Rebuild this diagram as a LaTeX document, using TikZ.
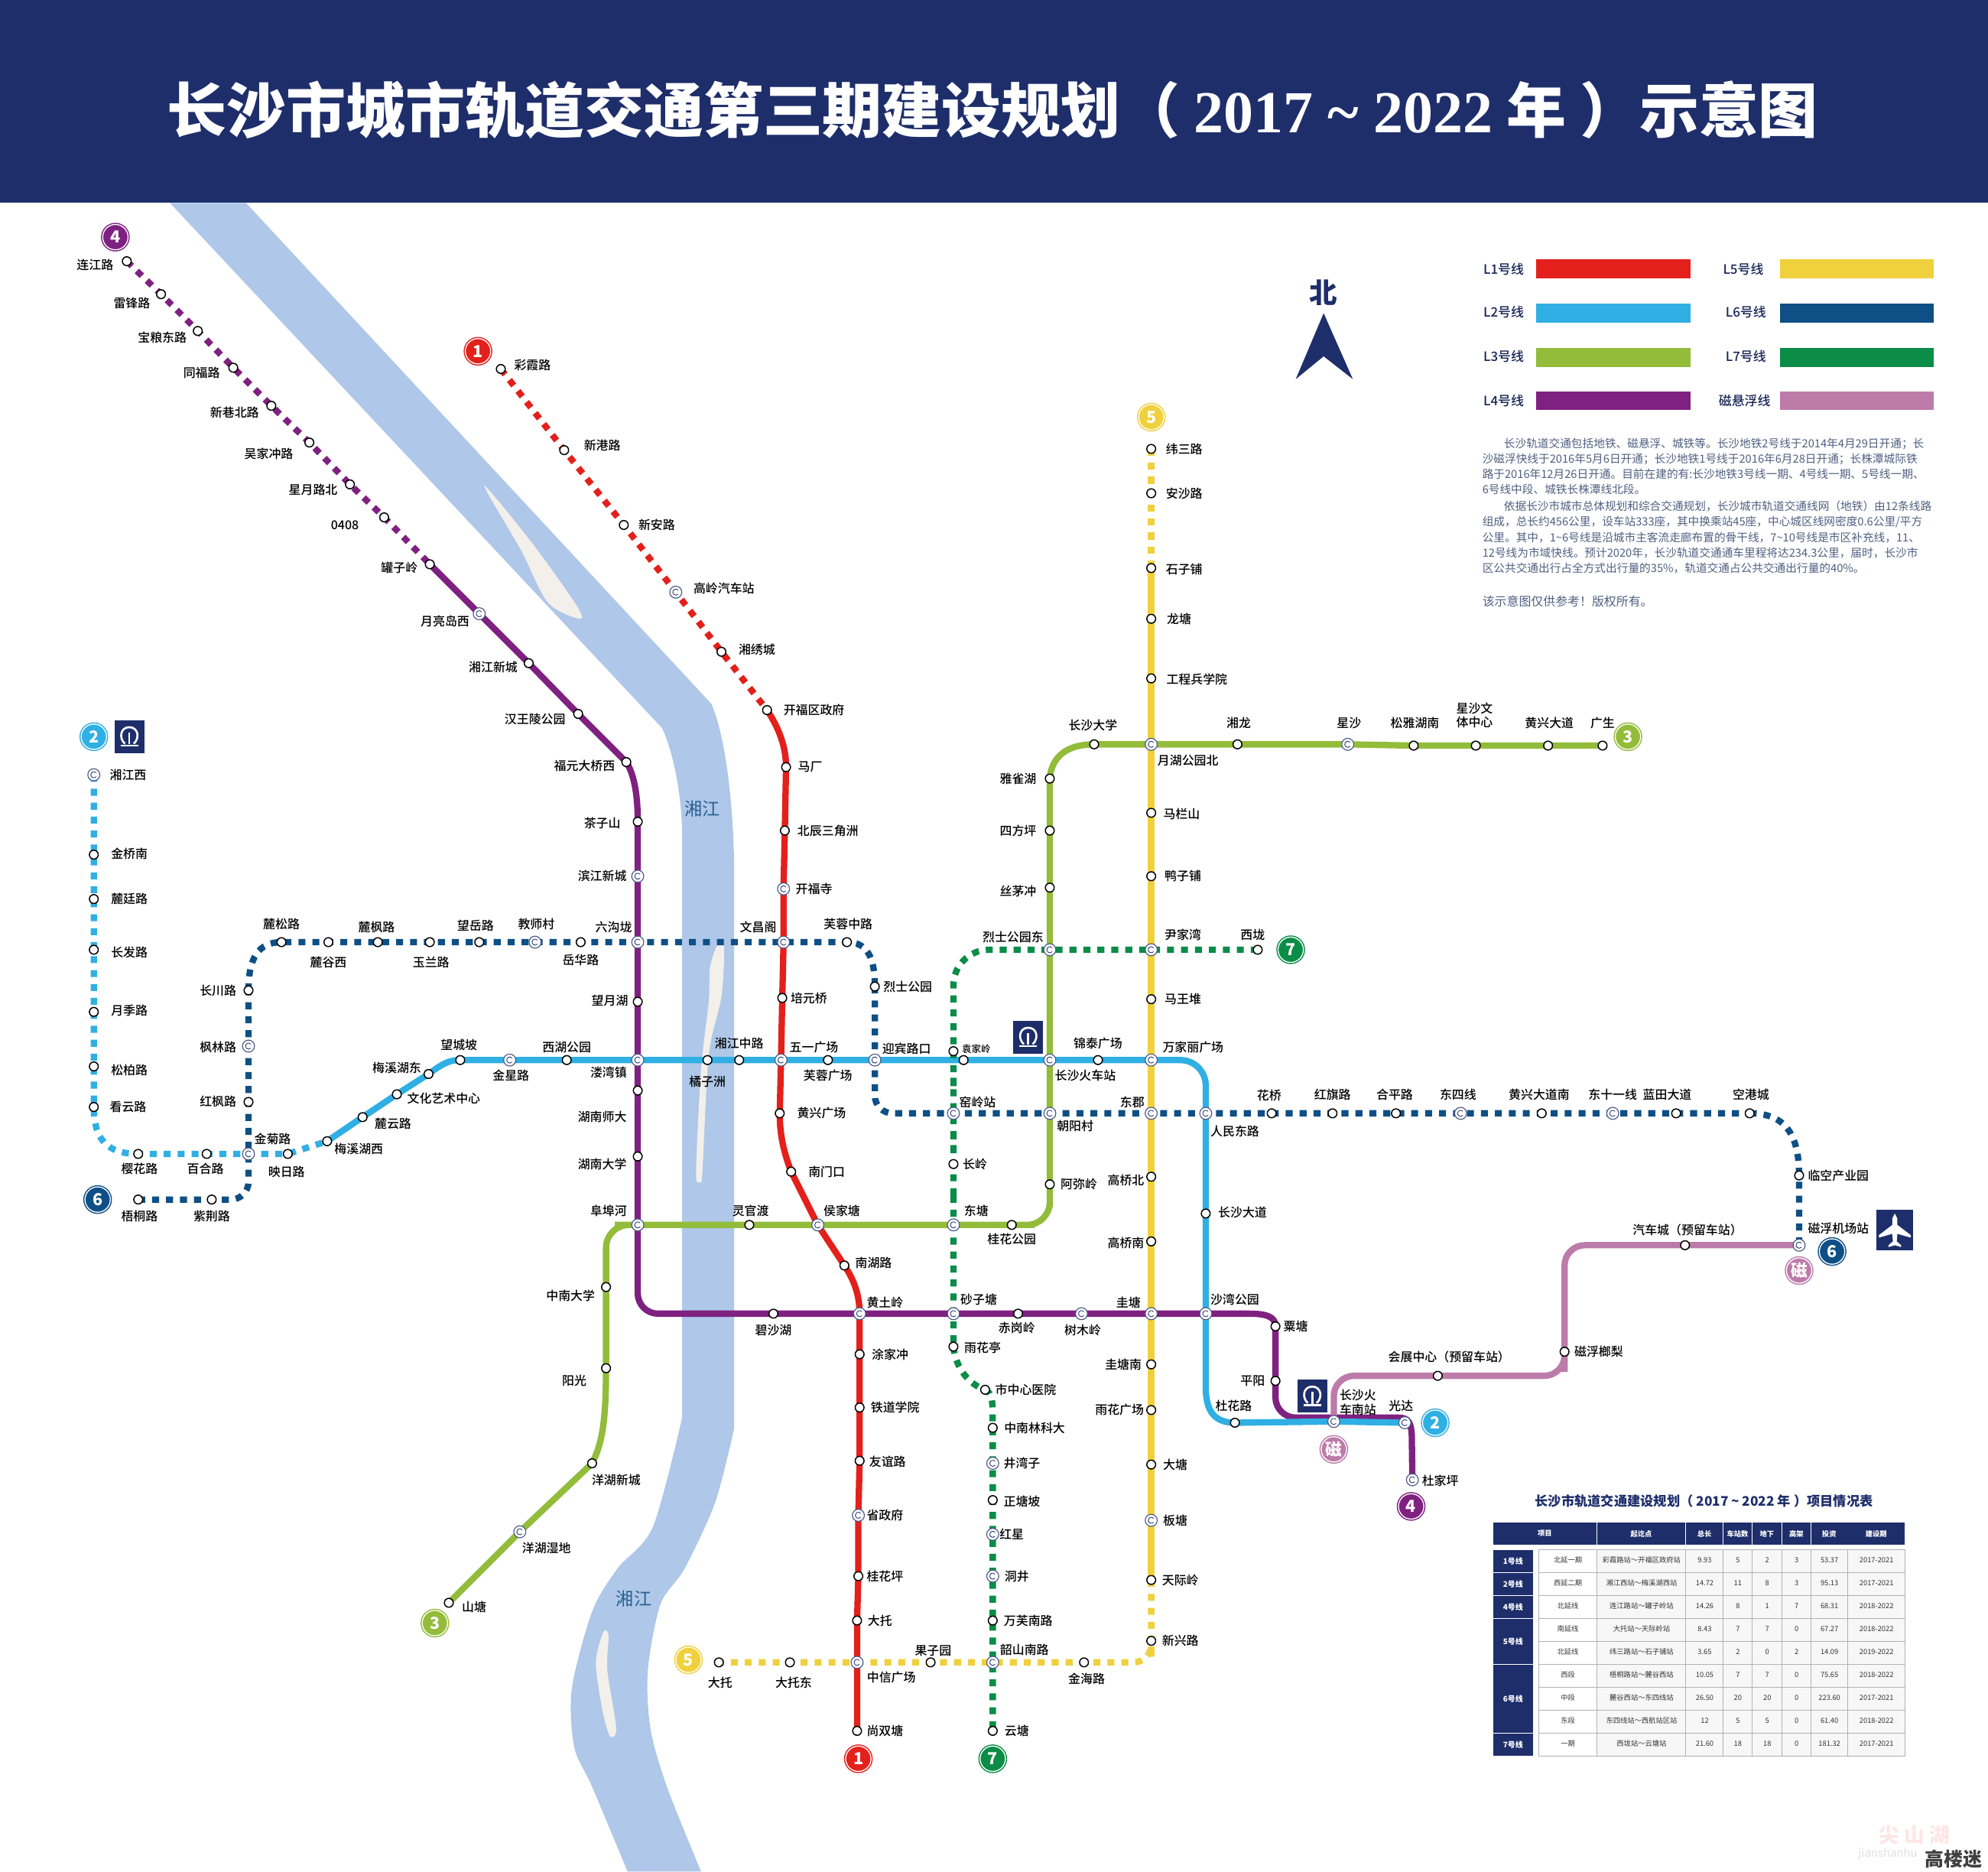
\documentclass[tikz,border=0pt]{standalone}
\usepackage{fontspec}
\usepackage{array}
\setmainfont{Noto Sans CJK SC}
\newfontfamily\numserif{Liberation Serif}
\newfontfamily\lblfont[UprightFont=* Medium]{Noto Sans CJK SC}
\usetikzlibrary{backgrounds}
\definecolor{navy}{HTML}{1E2E6A}
\definecolor{river}{HTML}{AFC7E8}
\definecolor{isle}{HTML}{F3EFEA}
\definecolor{cone}{HTML}{E3201B}
\definecolor{ctwo}{HTML}{2FAFE3}
\definecolor{cthree}{HTML}{92BC3A}
\definecolor{cfour}{HTML}{7F2180}
\definecolor{cfive}{HTML}{F0D03C}
\definecolor{csix}{HTML}{0E4F85}
\definecolor{cseven}{HTML}{0B8C47}
\definecolor{cmag}{HTML}{BC7BA9}
\definecolor{para}{HTML}{4F5F80}
\setlength{\tabcolsep}{0pt}
\newcolumntype{C}[1]{>{\centering\arraybackslash}p{#1}}
\newcolumntype{T}{C{45.9pt}C{70.3pt}C{29.3pt}C{23pt}C{23.3pt}C{23pt}C{28.9pt}C{45.3pt}}
\tikzset{
stn/.style={circle,draw=black,fill=white,line width=.9pt,minimum size=7pt,inner sep=0pt},
xfer/.style={circle,draw=navy!80,fill=white,line width=.7pt,minimum size=9.5pt,inner sep=0pt,path picture={\draw[navy,line width=.5pt] (path picture bounding box.center) ++(40:2.4) arc (40:320:2.4);}},
lbl/.style={inner sep=0pt,align=center,text=black,font=\lblfont\fontsize{9.6}{11}\selectfont},
badge/.style={circle,preaction={draw=#1,line width=2.6pt},draw=white,fill=#1,line width=.8pt,minimum size=20pt,inner sep=0pt,text=white,font=\fontsize{13}{14}\selectfont\bfseries},
lnbase/.style={line width=5pt},
dsh/.style={dash pattern=on 5.5pt off 5.5pt},
legbar/.style={minimum width=121.5pt,minimum height=15pt,inner sep=0pt},
leglbl/.style={inner sep=0pt,text=navy!80!black,font=\lblfont\fontsize{10.2}{11}\selectfont},
thead/.style={fill=navy,text=white,minimum height=17pt,inner sep=0pt,font=\fontsize{5.6}{7}\selectfont\bfseries},
tleft/.style={fill=navy,draw=white,line width=.5pt,text=white,minimum width=32pt,inner sep=0pt,font=\fontsize{6}{7}\selectfont\bfseries},
trow/.style={anchor=west,inner sep=0pt,text=black!80,font=\fontsize{5.6}{7}\selectfont},
railmark/.pic={
\node[fill=navy,minimum width=23.5pt,minimum height=26pt,inner sep=0pt] {};
\draw[white,line width=1.6pt] (-3.5,5.5) .. controls (-8.5,1) and (-7,-7.5) .. (0,-7.5) .. controls (7,-7.5) and (8.5,1) .. (3.5,5.5);
\draw[white,line width=1.6pt] (-7,7) -- (7,7) (0,-3.5) -- (0,6);
}
}
\begin{document}
\begin{tikzpicture}[x=1pt,y=-1pt]
\useasboundingbox (0,0) rectangle (1568,1476);
\fill[navy] (0,0) rectangle (1568,160);
\node[inner sep=0pt,text=white,font=\fontsize{47}{50}\selectfont\bfseries] (title) at (783,87) {长沙市城市轨道交通第三期建设规划（ {\numserif 2017 \textasciitilde{} 2022} 年 ）示意图};
\node[stn] (lj) at (100,206) {}; \node[lbl] (ljt) at (75,209) {连江路};
\node[stn] (lf) at (127,232) {}; \node[lbl] (lft) at (104,239) {雷锋路};
\node[stn] (bld) at (156,261) {}; \node[lbl] (bldt) at (128,266) {宝粮东路};
\node[stn] (tf) at (184,290) {}; \node[lbl] (tft) at (159,294) {同福路};
\node[stn] (xxb) at (214,320) {}; \node[lbl] (xxbt) at (185,325) {新巷北路};
\node[stn] (wjc) at (244,349) {}; \node[lbl] (wjct) at (212,358) {吴家冲路};
\node[stn] (xyb) at (276,382) {}; \node[lbl] (xybt) at (247,386) {星月路北};
\node[stn] (zfe) at (303,408) {}; \node[lbl] (zfet) at (272,414) {0408};
\node[stn] (gzl) at (339,445) {}; \node[lbl] (gzlt) at (315,448) {罐子岭};
\node[xfer] (ylx) at (378,484) {}; \node[lbl] (ylxt) at (351,490) {月亮岛西};
\node[stn] (xjxc) at (417,523) {}; \node[lbl] (xjxct) at (389,526) {湘江新城};
\node[stn] (hwl) at (456,563) {}; \node[lbl] (hwlt) at (422,567) {汉王陵公园};
\node[stn] (fyq) at (494,601) {}; \node[lbl] (fyqt) at (461,604) {福元大桥西};
\node[stn] (czs) at (503,648) {}; \node[lbl] (czst) at (475,649) {茶子山};
\node[xfer] (bjxc) at (503,691) {}; \node[lbl] (bjxct) at (475,691) {滨江新城};
\node[xfer] (lgl) at (503,743) {}; \node[lbl] (lglt) at (484,731) {六沟垅};
\node[stn] (wyh) at (503,790) {}; \node[lbl] (wyht) at (481,789) {望月湖};
\node[xfer] (lwz) at (503,836) {}; \node[lbl] (lwzt) at (480,846) {溇湾镇};
\node[stn] (hnsd) at (503,860) {}; \node[lbl] (hnsdt) at (475,881) {湖南师大};
\node[stn] (hndx) at (503,912) {}; \node[lbl] (hndxt) at (475,918) {湖南大学};
\node[xfer] (fbh) at (503,966) {}; \node[lbl] (fbht) at (480,955) {阜埠河};
\node[stn] (bsh) at (610,1036) {}; \node[lbl] (bsht) at (610,1049) {碧沙湖};
\node[xfer] (htl) at (678,1036) {}; \node[lbl] (htlt) at (698,1027) {黄土岭};
\node[xfer] (szt) at (752,1036) {}; \node[lbl] (sztt) at (772,1025) {砂子塘};
\node[stn] (cgl) at (803,1036) {}; \node[lbl] (cglt) at (802,1047) {赤岗岭};
\node[xfer] (sml) at (853,1036) {}; \node[lbl] (smlt) at (854,1049) {树木岭};
\node[xfer] (gt) at (908,1036) {}; \node[lbl] (gtt) at (890,1027) {圭塘};
\node[xfer] (swgy) at (951,1036) {}; \node[lbl] (swgyt) at (974,1025) {沙湾公园};
\node[stn] (st) at (1006,1046) {}; \node[lbl] (stt) at (1022,1046) {粟塘};
\node[stn] (py) at (1006,1089) {}; \node[lbl] (pyt) at (988,1089) {平阳};
\node[xfer] (nz) at (1052,1121) {}; \node[lbl] (nzt) at (1071,1106) {长沙火\\车南站};
\node[xfer] (gd) at (1108,1122) {}; \node[lbl] (gdt) at (1105,1109) {光达};
\node[xfer] (djp) at (1114,1167) {}; \node[lbl] (djpt) at (1136,1168) {杜家坪};
\coordinate (nzup) at (1052,1118);
\coordinate (gdup) at (1103,1118);
\node[stn] (cx) at (395,291) {}; \node[lbl] (cxt) at (420,288) {彩霞路};
\node[stn] (xg) at (445,355) {}; \node[lbl] (xgt) at (475,351) {新港路};
\node[stn] (xa) at (492,414) {}; \node[lbl] (xat) at (518,414) {新安路};
\node[xfer] (gl) at (533,467) {}; \node[lbl] (glt) at (571,464) {高岭汽车站};
\node[stn] (xx) at (569,514) {}; \node[lbl] (xxt) at (597,512) {湘绣城};
\node[stn] (kfq) at (605,560) {}; \node[lbl] (kfqt) at (642,560) {开福区政府};
\node[stn] (mc) at (620,605) {}; \node[lbl] (mct) at (639,605) {马厂};
\node[stn] (bc) at (619,655) {}; \node[lbl] (bct) at (653,655) {北辰三角洲};
\node[xfer] (kfs) at (618,701) {}; \node[lbl] (kfst) at (642,701) {开福寺};
\node[xfer] (wcg) at (618,743) {}; \node[lbl] (wcgt) at (598,731) {文昌阁};
\node[stn] (pyq) at (617,787) {}; \node[lbl] (pyqt) at (638,787) {培元桥};
\node[xfer] (wy) at (616,836) {}; \node[lbl] (wyt) at (642,826) {五一广场};
\node[stn] (hxgc) at (615,878) {}; \node[lbl] (hxgct) at (648,878) {黄兴广场};
\node[stn] (nmk) at (624,924) {}; \node[lbl] (nmkt) at (652,924) {南门口};
\node[xfer] (hjt) at (645,966) {}; \node[lbl] (hjtt) at (664,955) {侯家塘};
\node[stn] (nhl) at (666,998) {}; \node[lbl] (nhlt) at (689,996) {南湖路};
\node[stn] (tjc) at (678,1068) {}; \node[lbl] (tjct) at (702,1068) {涂家冲};
\node[stn] (tdxy) at (678,1110) {}; \node[lbl] (tdxyt) at (706,1110) {铁道学院};
\node[stn] (yyl) at (678,1152) {}; \node[lbl] (yylt) at (700,1153) {友谊路};
\node[xfer] (szf) at (677,1195) {}; \node[lbl] (szft) at (698,1195) {省政府};
\node[stn] (ghp) at (677,1243) {}; \node[lbl] (ghpt) at (698,1243) {桂花坪};
\node[stn] (dtb) at (676,1278) {}; \node[lbl] (dtbt) at (694,1278) {大托};
\node[xfer] (zx) at (676,1311) {}; \node[lbl] (zxt) at (703,1323) {中信广场};
\node[stn] (ssd) at (676,1365) {}; \node[lbl] (ssdt) at (698,1365) {尚双塘};
\node[xfer] (xjx) at (74,611) {}; \node[lbl] (xjxt) at (101,611) {湘江西};
\node[stn] (jq) at (74,674) {}; \node[lbl] (jqt) at (102,673) {金桥南};
\node[stn] (lt) at (74,709) {}; \node[lbl] (ltt) at (102,709) {麓廷路};
\node[stn] (cf) at (74,749) {}; \node[lbl] (cft) at (102,751) {长发路};
\node[stn] (yj) at (74,798) {}; \node[lbl] (yjt) at (102,797) {月季路};
\node[stn] (sb) at (74,841) {}; \node[lbl] (sbt) at (102,844) {松柏路};
\node[stn] (ky) at (74,873) {}; \node[lbl] (kyt) at (101,873) {看云路};
\node[stn] (yh) at (109,910) {}; \node[lbl] (yht) at (110,922) {樱花路};
\node[stn] (bh) at (163,910) {}; \node[lbl] (bht) at (162,922) {百合路};
\node[xfer] (jj) at (196,910) {}; \node[lbl] (jjt) at (215,898) {金菊路};
\node[stn] (yr) at (227,910) {}; \node[lbl] (yrt) at (226,924) {映日路};
\node[stn] (mxx) at (258,900) {}; \node[lbl] (mxxt) at (283,906) {梅溪湖西};
\node[stn] (lyl) at (286,881) {}; \node[lbl] (lylt) at (310,886) {麓云路};
\node[stn] (whys) at (313,863) {}; \node[lbl] (whyst) at (350,866) {文化艺术中心};
\node[stn] (mxd) at (338,847) {}; \node[lbl] (mxdt) at (313,842) {梅溪湖东};
\node[stn] (wcp) at (363,836) {}; \node[lbl] (wcpt) at (362,824) {望城坡};
\node[xfer] (jx) at (402,836) {}; \node[lbl] (jxt) at (403,848) {金星路};
\node[stn] (xhgy) at (447,836) {}; \node[lbl] (xhgyt) at (447,826) {西湖公园};
\node[stn] (jzz) at (558,836) {}; \node[lbl] (jzzt) at (558,853) {橘子洲};
\node[stn] (xjzl) at (583,836) {}; \node[lbl] (xjzlt) at (583,823) {湘江中路};
\node[stn] (frgc) at (653,836) {}; \node[lbl] (frgct) at (653,848) {芙蓉广场};
\node[xfer] (ybl) at (690,836) {}; \node[lbl] (yblt) at (715,827) {迎宾路口};
\node[stn] (yjl) at (760,836) {}; \node[lbl,font=\lblfont\fontsize{7.5}{9}\selectfont] (yjlt) at (770,827) {袁家岭};
\node[xfer] (cshc) at (828,836) {}; \node[lbl] (cshct) at (856,848) {长沙火车站};
\node[stn] (jtgc) at (866,836) {}; \node[lbl] (jtgct) at (866,823) {锦泰广场};
\node[xfer] (wjl) at (908,836) {}; \node[lbl] (wjlt) at (941,826) {万家丽广场};
\node[xfer] (rmdl) at (951,878) {}; \node[lbl] (rmdlt) at (974,892) {人民东路};
\node[stn] (csdd) at (951,957) {}; \node[lbl] (csddt) at (980,956) {长沙大道};
\node[stn] (dhl) at (974,1122) {}; \node[lbl] (dhlt) at (973,1109) {杜花路};
\node[stn] (wt) at (109,946) {}; \node[lbl] (wtt) at (110,959) {梧桐路};
\node[stn] (zj) at (167,946) {}; \node[lbl] (zjt) at (167,959) {紫荆路};
\node[stn] (hfl) at (196,869) {}; \node[lbl] (hflt) at (172,869) {红枫路};
\node[xfer] (fl) at (196,825) {}; \node[lbl] (flt) at (172,826) {枫林路};
\node[stn] (cc) at (196,781) {}; \node[lbl] (cct) at (172,781) {长川路};
\node[stn] (ls) at (222,743) {}; \node[lbl] (lst) at (222,729) {麓松路};
\node[stn] (lgx) at (259,743) {}; \node[lbl] (lgxt) at (259,759) {麓谷西};
\node[stn] (lfl) at (298,743) {}; \node[lbl] (lflt) at (297,731) {麓枫路};
\node[stn] (yl) at (339,743) {}; \node[lbl] (ylt) at (340,759) {玉兰路};
\node[stn] (wyl) at (378,743) {}; \node[lbl] (wylt) at (375,730) {望岳路};
\node[xfer] (jsc) at (422,743) {}; \node[lbl] (jsct) at (423,729) {教师村};
\node[stn] (yhl) at (458,743) {}; \node[lbl] (yhlt) at (458,757) {岳华路};
\node[stn] (frzl) at (668,743) {}; \node[lbl] (frzlt) at (669,729) {芙蓉中路};
\node[stn] (lsgy) at (690,778) {}; \node[lbl] (lsgyt) at (716,778) {烈士公园};
\node[xfer] (yaol) at (752,878) {}; \node[lbl] (yaolt) at (771,869) {窑岭站};
\node[xfer] (cyc) at (828,878) {}; \node[lbl] (cyct) at (848,888) {朝阳村};
\node[xfer] (dj) at (908,878) {}; \node[lbl] (djt) at (893,869) {东郡};
\node[stn] (hq) at (1003,878) {}; \node[lbl] (hqt) at (1001,864) {花桥};
\node[stn] (hqi) at (1051,878) {}; \node[lbl] (hqit) at (1051,863) {红旗路};
\node[stn] (hp) at (1101,878) {}; \node[lbl] (hpt) at (1100,863) {合平路};
\node[xfer] (dsx) at (1152,878) {}; \node[lbl] (dsxt) at (1150,863) {东四线};
\node[stn] (hxn) at (1216,878) {}; \node[lbl] (hxnt) at (1214,863) {黄兴大道南};
\node[xfer] (dsy) at (1272,878) {}; \node[lbl] (dsyt) at (1272,863) {东十一线};
\node[stn] (ltd) at (1322,878) {}; \node[lbl] (ltdt) at (1315,863) {蓝田大道};
\node[stn] (kgc) at (1380,878) {}; \node[lbl] (kgct) at (1381,863) {空港城};
\node[stn] (lky) at (1419,927) {}; \node[lbl] (lkyt) at (1450,927) {临空产业园};
\node[xfer] (jc) at (1419,982) {}; \node[lbl] (jct) at (1450,969) {磁浮机场站};
\node[stn] (shant) at (354,1264) {}; \node[lbl] (shantt) at (374,1267) {山塘};
\node[xfer] (yhsd) at (410,1208) {}; \node[lbl] (yhsdt) at (431,1221) {洋湖湿地};
\node[stn] (yhxc) at (467,1154) {}; \node[lbl] (yhxct) at (486,1167) {洋湖新城};
\node[stn] (yg) at (478,1079) {}; \node[lbl] (ygt) at (453,1089) {阳光};
\node[stn] (znd) at (478,1015) {}; \node[lbl] (zndt) at (450,1022) {中南大学};
\node[stn] (lgd) at (591,966) {}; \node[lbl] (lgdt) at (592,955) {灵官渡};
\node[xfer] (dt) at (752,966) {}; \node[lbl] (dtt) at (770,955) {东塘};
\node[stn] (ghgy) at (798,966) {}; \node[lbl] (ghgyt) at (798,977) {桂花公园};
\node[stn] (aml) at (828,934) {}; \node[lbl] (amlt) at (851,934) {阿弥岭};
\node[xfer] (lsd) at (828,749) {}; \node[lbl] (lsdt) at (799,739) {烈士公园东};
\node[stn] (smc) at (828,700) {}; \node[lbl] (smct) at (803,703) {丝茅冲};
\node[stn] (sfp) at (828,655) {}; \node[lbl] (sfpt) at (803,655) {四方坪};
\node[stn] (yqh) at (828,614) {}; \node[lbl] (yqht) at (803,614) {雅雀湖};
\node[stn] (csdx) at (863,587) {}; \node[lbl] (csdxt) at (862,572) {长沙大学};
\node[xfer] (yhgy) at (908,587) {}; \node[lbl] (yhgyt) at (937,600) {月湖公园北};
\node[stn] (xl) at (976,587) {}; \node[lbl] (xlt) at (977,570) {湘龙};
\node[xfer] (xs) at (1063,587) {}; \node[lbl] (xst) at (1064,570) {星沙};
\node[stn] (syh) at (1115,588) {}; \node[lbl] (syht) at (1116,570) {松雅湖南};
\node[stn] (xswt) at (1164,588) {}; \node[lbl] (xswtt) at (1163,564) {星沙文\\体中心};
\node[stn] (hxdd) at (1221,588) {}; \node[lbl] (hxddt) at (1222,570) {黄兴大道};
\node[stn] (gs) at (1264,588) {}; \node[lbl] (gst) at (1264,570) {广生};
\node[stn] (wsl) at (908,354) {}; \node[lbl] (wslt) at (934,354) {纬三路};
\node[stn] (asl) at (908,389) {}; \node[lbl] (aslt) at (934,389) {安沙路};
\node[stn] (szp) at (908,448) {}; \node[lbl] (szpt) at (934,449) {石子铺};
\node[stn] (lt5) at (908,488) {}; \node[lbl] (lt5t) at (930,488) {龙塘};
\node[stn] (gcb) at (908,535) {}; \node[lbl] (gcbt) at (944,536) {工程兵学院};
\node[stn] (mls) at (908,641) {}; \node[lbl] (mlst) at (932,642) {马栏山};
\node[stn] (yzp) at (908,691) {}; \node[lbl] (yzpt) at (933,691) {鸭子铺};
\node[xfer] (yjw) at (908,749) {}; \node[lbl] (yjwt) at (933,737) {尹家湾};
\node[stn] (mwd) at (908,788) {}; \node[lbl] (mwdt) at (933,788) {马王堆};
\node[stn] (gqb) at (908,928) {}; \node[lbl] (gqbt) at (888,931) {高桥北};
\node[stn] (gqn) at (908,979) {}; \node[lbl] (gqnt) at (888,980) {高桥南};
\node[stn] (gtn) at (908,1076) {}; \node[lbl] (gtnt) at (886,1076) {圭塘南};
\node[stn] (yhgc) at (908,1112) {}; \node[lbl] (yhgct) at (883,1112) {雨花广场};
\node[stn] (dtg) at (908,1155) {}; \node[lbl] (dtgt) at (927,1155) {大塘};
\node[xfer] (bt) at (908,1199) {}; \node[lbl] (btt) at (927,1199) {板塘};
\node[stn] (tjl) at (908,1246) {}; \node[lbl] (tjlt) at (931,1246) {天际岭};
\node[stn] (xxl) at (908,1294) {}; \node[lbl] (xxlt) at (931,1294) {新兴路};
\node[stn] (jhl) at (855,1311) {}; \node[lbl] (jhlt) at (857,1324) {金海路};
\node[xfer] (ssn) at (783,1311) {}; \node[lbl] (ssnt) at (808,1301) {韶山南路};
\node[stn] (gzy) at (734,1311) {}; \node[lbl] (gzyt) at (736,1302) {果子园};
\node[stn] (dtd) at (623,1311) {}; \node[lbl] (dtdt) at (626,1327) {大托东};
\node[stn] (dtw) at (567,1311) {}; \node[lbl] (dtwt) at (568,1327) {大托};
\node[stn] (xlg) at (992,749) {}; \node[lbl] (xlgt) at (988,737) {西垅};
\node[stn] (yjl7) at (752,829) {};
\node[stn] (cl) at (752,918) {}; \node[lbl] (clt) at (769,918) {长岭};
\node[stn] (yht7) at (752,1062) {}; \node[lbl] (yht7t) at (775,1063) {雨花亭};
\node[stn] (szx) at (777,1096) {}; \node[lbl] (szxt) at (809,1096) {市中心医院};
\node[stn] (znl) at (783,1126) {}; \node[lbl] (znlt) at (816,1126) {中南林科大};
\node[xfer] (jwz) at (783,1154) {}; \node[lbl] (jwzt) at (806,1154) {井湾子};
\node[stn] (ztp) at (783,1183) {}; \node[lbl] (ztpt) at (806,1184) {正塘坡};
\node[xfer] (hx) at (783,1210) {}; \node[lbl] (hxt) at (798,1210) {红星};
\node[xfer] (dj7) at (783,1243) {}; \node[lbl] (dj7t) at (802,1243) {洞井};
\node[stn] (wfn) at (783,1278) {}; \node[lbl] (wfnt) at (811,1278) {万芙南路};
\node[stn] (ytg) at (783,1365) {}; \node[lbl] (ytgt) at (802,1365) {云塘};
\node[stn] (hz) at (1134,1085) {}; \node[lbl] (hzt) at (1143,1070) {会展中心（预留车站）};
\node[stn] (cfl) at (1234,1066) {}; \node[lbl] (cflt) at (1261,1066) {磁浮榔梨};
\node[stn] (qcc) at (1329,982) {}; \node[lbl] (qcct) at (1331,970) {汽车城（预留车站）};
\node[badge=cfour] (b4a) at (91,187) {4};
\node[badge=cfour] (b4b) at (1113,1188) {4};
\node[badge=cone] (b1a) at (377,277) {1};
\node[badge=cone] (b1b) at (677,1387) {1};
\node[badge=ctwo] (b2a) at (74,581) {2};
\node[badge=ctwo] (b2b) at (1132,1122) {2};
\node[badge=cthree] (b3a) at (1284,581) {3};
\node[badge=cthree] (b3b) at (343,1280) {3};
\node[badge=cfive] (b5a) at (908,329) {5};
\node[badge=cfive] (b5b) at (543,1309) {5};
\node[badge=csix] (b6a) at (77,946) {6};
\node[badge=csix] (b6b) at (1445,987) {6};
\node[badge=cseven] (b7a) at (1018,749) {7};
\node[badge=cseven] (b7b) at (783,1387) {7};
\node[badge=cmag] (bma) at (1419,1002) {磁};
\node[badge=cmag] (bmb) at (1052,1143) {磁};
\pic at (102,581) {railmark};
\pic at (811,818) {railmark};
\pic at (1035,1101) {railmark};
\node[fill=navy,minimum width=29pt,minimum height=32pt,inner sep=0pt] (plane) at (1494.5,970) {};
\fill[white] (1494.5,957) -- (1496.5,961) -- (1496.5,966) -- (1507,974) -- (1507,976) -- (1496.5,973) -- (1496,979) -- (1499.5,982) -- (1499.5,983.5) -- (1494.5,982) -- (1489.5,983.5) -- (1489.5,982) -- (1493,979) -- (1492.5,973) -- (1482,976) -- (1482,974) -- (1492.5,966) -- (1492.5,961) -- cycle;
\begin{scope}[on background layer]
\fill[river] (134,160) -- (522,574) .. controls (530,590) and (538,625) .. (538,660) -- (538,1100) -- plot[smooth,tension=.5] coordinates {(538,1118) (515,1204) (487,1237) (467,1271) (451,1332) (453,1378) (467,1409) (495,1476)} -- plot[smooth,tension=.5] coordinates {(553,1476) (526,1409) (513,1363) (511,1317) (521,1265) (540,1237) (564,1185) (579,1127)} -- (579,680) .. controls (578,630) and (572,580) .. (561,555) -- (194,160) -- cycle;
\fill[isle] plot[smooth cycle,tension=.5] coordinates {(382,383) (421,430) (455,478) (457,488) (432,475) (411,434)};
\fill[isle] plot[smooth cycle,tension=.5] coordinates {(566,745) (571,747) (569,786) (559,832) (554,924) (552,932) (549,924) (553,843) (559,790) (560,763)};
\fill[isle] plot[smooth cycle,tension=.5] coordinates {(476,1287) (470,1311) (475,1348) (481,1369) (486,1363) (479,1317) (480,1290)};
\draw[lnbase,cone,dsh] (cx.center) -- (xg.center) -- (xa.center) -- (gl.center) -- (xx.center) -- (kfq.center);
\draw[lnbase,cone] (kfq.center) .. controls (615,575) and (620,590) .. (mc.center) -- (bc.center) -- (kfs.center) -- (wcg.center) -- (pyq.center) -- (wy.center) -- (hxgc.center) .. controls (615,895) and (618,908) .. (nmk.center) -- (hjt.center) -- (nhl.center) .. controls (674,1010) and (678,1022) .. (htl.center) -- (tjc.center) -- (tdxy.center) -- (yyl.center) -- (szf.center) -- (ghp.center) -- (dtb.center) -- (zx.center) -- (ssd.center);
\draw[lnbase,cthree] (shant.center) -- (yhsd.center) -- (yhxc.center) .. controls (474,1140) and (478,1125) .. (yg.center) -- (znd.center);
\draw[lnbase,cthree,rounded corners=18pt] (znd.center) |- (fbh.center) -- (lgd.center) -- (hjt.center) -- (dt.center) -- (ghgy.center) -| (aml.center) -- (cyc.center) -- (cshc.center) -- (lsd.center) -- (smc.center) -- (sfp.center) -- (yqh.center);
\draw[lnbase,cthree] (yqh.center) .. controls (829,600) and (838,587) .. (csdx.center) -- (yhgy.center) -- (xl.center) -- (xs.center) -- (syh.center) -- (xswt.center) -- (hxdd.center) -- (gs.center);
\draw[lnbase,cfive,dsh] (wsl.center) -- (asl.center) -- (szp.center);
\draw[lnbase,cfive] (szp.center) -- (lt5.center) -- (gcb.center) -- (yhgy.center) -- (mls.center) -- (yzp.center) -- (yjw.center) -- (mwd.center) -- (wjl.center) -- (dj.center) -- (gqb.center) -- (gqn.center) -- (gt.center) -- (gtn.center) -- (yhgc.center) -- (dtg.center) -- (bt.center) -- (tjl.center);
\draw[lnbase,cfive,dsh,rounded corners=14pt] (tjl.center) -- (xxl.center) |- (jhl.center) -- (ssn.center) -- (gzy.center) -- (zx.center) -- (dtd.center) -- (dtw.center);
\draw[lnbase,cfour,dsh] (lj.center) -- (lf.center) -- (bld.center) -- (tf.center) -- (xxb.center) -- (wjc.center) -- (xyb.center) -- (zfe.center) -- (gzl.center);
\draw[lnbase,cfour] (gzl.center) -- (ylx.center) -- (xjxc.center) -- (hwl.center) -- (fyq.center) .. controls (501,612) and (503,630) .. (czs.center) -- (bjxc.center) -- (lgl.center) -- (wyh.center) -- (lwz.center) -- (hnsd.center) -- (hndx.center) -- (fbh.center);
\draw[lnbase,cfour,rounded corners=16pt] (fbh.center) |- (bsh.center) -- (htl.center) -- (szt.center) -- (cgl.center) -- (sml.center) -- (gt.center) -- (swgy.center);
\draw[lnbase,cfour] (swgy.center) -- (985,1036) .. controls (998,1036) and (1006,1038) .. (st.center) -- (py.center);
\draw[lnbase,cfour,rounded corners=16pt] (py.center) |- (nzup) -- (gdup);
\draw[lnbase,cfour] (gdup) .. controls (1111,1118) and (1113,1122) .. (1113.5,1132) -- (djp.center);
\draw[lnbase,cmag,rounded corners=16pt] (nz.center) |- (hz.center) -| (cfl.center) |- (qcc.center) -- (jc.center);
\draw[lnbase,ctwo,dsh] (xjx.center) -- (jq.center) -- (lt.center) -- (cf.center) -- (yj.center) -- (sb.center) -- (ky.center) .. controls (74,898) and (84,910) .. (yh.center) -- (bh.center) -- (jj.center) -- (yr.center) -- (mxx.center);
\draw[lnbase,ctwo] (mxx.center) -- (lyl.center) -- (whys.center) -- (mxd.center) .. controls (350,838) and (355,836) .. (wcp.center) -- (jx.center) -- (xhgy.center) -- (lwz.center);
\draw[lnbase,ctwo,rounded corners=20pt] (lwz.center) -- (jzz.center) -- (xjzl.center) -- (wy.center) -- (frgc.center) -- (ybl.center) -- (yjl.center) -- (cshc.center) -- (jtgc.center) -- (wjl.center) -| (rmdl.center) -- (csdd.center) -- (swgy.center);
\draw[lnbase,ctwo] (swgy.center) -- (951,1094) .. controls (951,1113) and (958,1122) .. (dhl.center) -- (nz.center) -- (gd.center);
\draw[lnbase,csix,dsh,rounded corners=14pt] (wt.center) -- (zj.center) -| (jj.center) -- (hfl.center) -- (fl.center) -- (cc.center);
\draw[lnbase,csix,dsh] (cc.center) .. controls (196,755) and (204,743) .. (ls.center) -- (lgx.center) -- (lfl.center) -- (yl.center) -- (wyl.center) -- (jsc.center) -- (yhl.center) -- (lgl.center) -- (wcg.center) -- (frzl.center) .. controls (684,743) and (690,755) .. (lsgy.center);
\draw[lnbase,csix,dsh,rounded corners=14pt] (lsgy.center) -- (ybl.center) |- (yaol.center) -- (cyc.center) -- (dj.center) -- (rmdl.center) -- (hq.center) -- (hqi.center) -- (hp.center) -- (dsx.center) -- (hxn.center) -- (dsy.center) -- (ltd.center) -- (kgc.center);
\draw[lnbase,csix,dsh] (kgc.center) .. controls (1406,878) and (1419,892) .. (lky.center) -- (jc.center);
\draw[lnbase,cseven,dsh,rounded corners=28pt] (xlg.center) -- (yjw.center) -- (lsd.center) -| (yjl7.center) -- (yaol.center) -- (cl.center) -- (dt.center) -- (szt.center) -- (yht7.center);
\draw[lnbase,cseven,dsh] (yht7.center) .. controls (754,1080) and (765,1092) .. (szx.center) .. controls (783,1099) and (783,1104) .. (znl.center) -- (jwz.center) -- (ztp.center) -- (hx.center) -- (dj7.center) -- (wfn.center) -- (ssn.center) -- (ytg.center);
\end{scope}
\node[inner sep=0pt,text=csix!90,font=\fontsize{14}{16}\selectfont] (rva) at (554,638) {湘江};
\node[inner sep=0pt,text=csix!90,font=\fontsize{14}{16}\selectfont] (rvb) at (500,1261) {湘江};
\node[inner sep=0pt,text=navy,font=\fontsize{22}{24}\selectfont\bfseries] (north) at (1044,231) {北};
\fill[navy] (1044,247) -- (1067,299) -- (1044,281) -- (1022,299) -- cycle;
\node[legbar,fill=cone] (bar1) at (1272.5,212) {}; \node[leglbl] (leg1) at (1186,212) {L1号线};
\node[legbar,fill=ctwo] (bar2) at (1272.5,247) {}; \node[leglbl] (leg2) at (1186,246) {L2号线};
\node[legbar,fill=cthree] (bar3) at (1272.5,282) {}; \node[leglbl] (leg3) at (1186,281) {L3号线};
\node[legbar,fill=cfour] (bar4) at (1272.5,316) {}; \node[leglbl] (leg4) at (1186,316) {L4号线};
\node[legbar,fill=cfive] (bar5) at (1464.5,212) {}; \node[leglbl] (leg5) at (1375,212) {L5号线};
\node[legbar,fill=csix] (bar6) at (1464.5,247) {}; \node[leglbl] (leg6) at (1377,246) {L6号线};
\node[legbar,fill=cseven] (bar7) at (1464.5,282) {}; \node[leglbl] (leg7) at (1377,281) {L7号线};
\node[legbar,fill=cmag] (barm) at (1464.5,316) {}; \node[leglbl] (legm) at (1376,316) {磁悬浮线};
\node[anchor=north west,inner sep=0pt,align=left,text=para,font=\fontsize{8.85}{12}\selectfont] (parone) at (1169,345.5) {\hspace{17pt}长沙轨道交通包括地铁、磁悬浮、城铁等。长沙地铁2号线于2014年4月29日开通；长\\沙磁浮快线于2016年5月6日开通；长沙地铁1号线于2016年6月28日开通；长株潭城际铁\\路于2016年12月26日开通。目前在建的有:长沙地铁3号线一期、4号线一期、5号线一期、\\6号线中段、城铁长株潭线北段。};
\node[anchor=north west,inner sep=0pt,align=left,text=para,font=\fontsize{8.85}{12.1}\selectfont] (partwo) at (1169,395) {\hspace{17pt}依据长沙市城市总体规划和综合交通规划，长沙城市轨道交通线网（地铁）由12条线路\\组成，总长约456公里，设车站333座，其中换乘站45座，中心城区线网密度0.6公里/平方\\公里。其中，1\textasciitilde 6号线是沿城市主客流走廊布置的骨干线，7\textasciitilde 10号线是市区补充线，11、\\12号线为市域快线。预计2020年，长沙轨道交通通车里程将达234.3公里，届时，长沙市\\区公共交通出行占全方式出行量的35\%，轨道交通占公共交通出行量的40\%。};
\node[anchor=west,inner sep=0pt,text=para,font=\fontsize{9.6}{11}\selectfont] (parnote) at (1169,474) {该示意图仅供参考！版权所有。};
\node[inner sep=0pt,text=navy,font=\fontsize{10.4}{12}\selectfont\bfseries] (tbltitle) at (1344,1184) {长沙市轨道交通建设规划（ 2017 \textasciitilde{} 2022 年 ）项目情况表};
\node[thead,minimum width=81.5pt] (h1) at (1218.4,1209.5) {项目};
\node[thead,minimum width=69.8pt] (h2) at (1294.5,1209.5) {起讫点};
\node[thead,minimum width=28.8pt] (h3) at (1344.3,1209.5) {总长};
\node[thead,minimum width=22.5pt] (h4) at (1370.5,1209.5) {车站数};
\node[thead,minimum width=22.8pt] (h5) at (1393.6,1209.5) {地下};
\node[thead,minimum width=22.5pt] (h6) at (1416.8,1209.5) {高架};
\node[thead,minimum width=28.4pt] (h7) at (1442.7,1209.5) {投资};
\node[thead,minimum width=45.3pt] (h8) at (1479.8,1209.5) {建设期};
\fill[black!3] (1259.4,1222) rectangle (1502.5,1385);
\draw[black!30,line width=.6pt] (1213.5,1222) rectangle (1502.5,1385);
\draw[black!30,line width=.5pt] (1213.5,1240.1) -- (1502.5,1240.1) (1213.5,1258.2) -- (1502.5,1258.2) (1213.5,1276.3) -- (1502.5,1276.3) (1213.5,1294.4) -- (1502.5,1294.4) (1213.5,1312.5) -- (1502.5,1312.5) (1213.5,1330.6) -- (1502.5,1330.6) (1213.5,1348.7) -- (1502.5,1348.7) (1213.5,1366.8) -- (1502.5,1366.8);
\draw[black!30,line width=.5pt] (1259.4,1222) -- (1259.4,1385) (1329.7,1222) -- (1329.7,1385) (1359,1222) -- (1359,1385) (1382,1222) -- (1382,1385) (1405.3,1222) -- (1405.3,1385) (1428.3,1222) -- (1428.3,1385) (1457.2,1222) -- (1457.2,1385);
\node[tleft,minimum height=18.1pt] (t1) at (1193.4,1231) {1号线};
\node[tleft,minimum height=18.1pt] (t2) at (1193.4,1249.1) {2号线};
\node[tleft,minimum height=18.1pt] (t4) at (1193.4,1267.2) {4号线};
\node[tleft,minimum height=36.2pt] (t5) at (1193.4,1294.4) {5号线};
\node[tleft,minimum height=54.3pt] (t6) at (1193.4,1339.6) {6号线};
\node[tleft,minimum height=18.1pt] (t7) at (1193.4,1375.9) {7号线};
\node[trow] (r1) at (1213.5,1231) {\begin{tabular}{T}北延一期&彩霞路站～开福区政府站&9.93&5&2&3&53.37&2017-2021\end{tabular}};
\node[trow] (r2) at (1213.5,1249.1) {\begin{tabular}{T}西延二期&湘江西站～梅溪湖西站&14.72&11&8&3&95.13&2017-2021\end{tabular}};
\node[trow] (r3) at (1213.5,1267.2) {\begin{tabular}{T}北延线&连江路站～罐子岭站&14.26&8&1&7&68.31&2018-2022\end{tabular}};
\node[trow] (r4) at (1213.5,1285.3) {\begin{tabular}{T}南延线&大托站～天际岭站&8.43&7&7&0&67.27&2018-2022\end{tabular}};
\node[trow] (r5) at (1213.5,1303.4) {\begin{tabular}{T}北延线&纬三路站～石子铺站&3.65&2&0&2&14.09&2019-2022\end{tabular}};
\node[trow] (r6) at (1213.5,1321.5) {\begin{tabular}{T}西段&梧桐路站～麓谷西站&10.05&7&7&0&75.65&2018-2022\end{tabular}};
\node[trow] (r7) at (1213.5,1339.6) {\begin{tabular}{T}中段&麓谷西站～东四线站&26.50&20&20&0&223.60&2017-2021\end{tabular}};
\node[trow] (r8) at (1213.5,1357.7) {\begin{tabular}{T}东段&东四线站～西航站区站&12&5&5&0&61.40&2018-2022\end{tabular}};
\node[trow] (r9) at (1213.5,1375.9) {\begin{tabular}{T}一期&西垅站～云塘站&21.60&18&18&0&181.32&2017-2021\end{tabular}};
\node[inner sep=0pt,text=red!10,font=\fontsize{16}{18}\selectfont\bfseries] (wma) at (1510,1447) {尖 山 湖};
\node[inner sep=0pt,text=black!12,font=\fontsize{9}{10}\selectfont] (wmb) at (1489,1462) {jianshanhu};
\node[inner sep=0pt,text=black!75,font=\fontsize{15}{16}\selectfont\bfseries] (wmc) at (1541,1466) {高楼迷};
\end{tikzpicture}
\end{document}
